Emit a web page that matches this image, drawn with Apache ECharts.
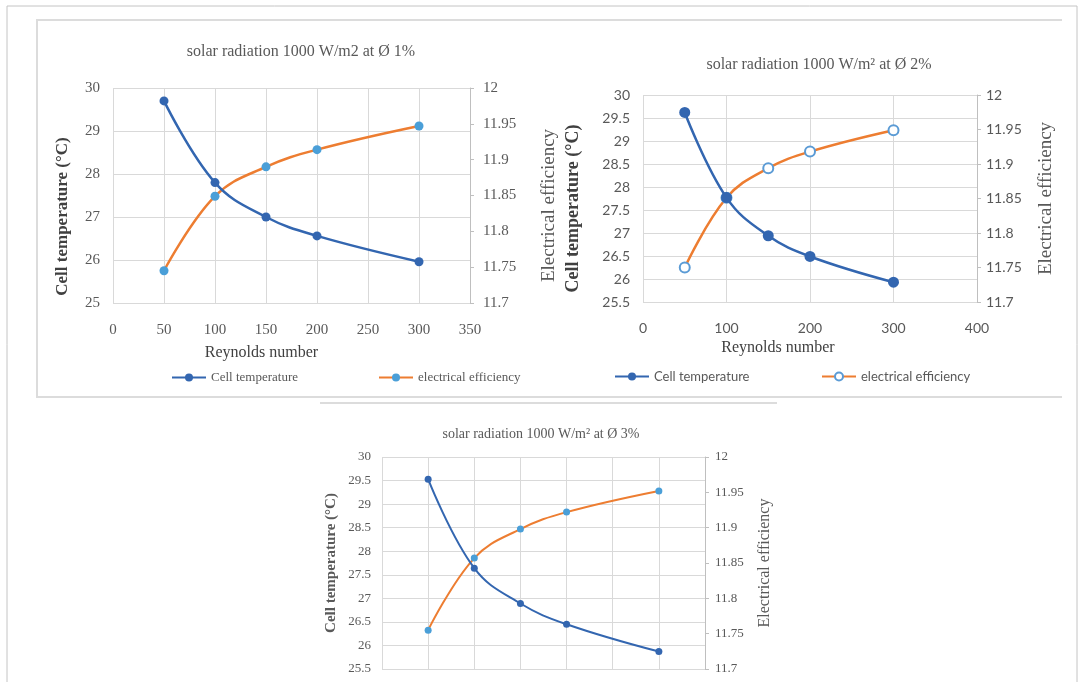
<!DOCTYPE html>
<html>
<head>
<meta charset="utf-8">
<title>solar radiation charts</title>
<script src="https://cdn.jsdelivr.net/npm/echarts@6/dist/echarts.min.js"></script>
<style>
  html, body { margin: 0; padding: 0; background: #fff; }
  #main { width: 1079px; height: 682px; }
</style>
</head>
<body>
<div id="main"></div>
<script>
// Reynolds number (x) shared by all three panels
const reynolds = [50, 100, 150, 200, 300]

// Ø 1%
const temp1 = [29.7, 27.8, 27.0, 26.56, 25.96]
const eff1 = [11.745, 11.849, 11.89, 11.914, 11.947]
// Ø 2%
const temp2 = [29.62, 27.77, 26.94, 26.49, 25.93]
const eff2 = [11.75, 11.851, 11.894, 11.918, 11.949]
// Ø 3%
const temp3 = [29.53, 27.64, 26.89, 26.45, 25.87]
const eff3 = [11.755, 11.857, 11.898, 11.922, 11.952]

const titles = [
  'solar radiation 1000 W/m2 at Ø 1%',
  'solar radiation 1000 W/m² at Ø 2%',
  'solar radiation 1000 W/m² at Ø 3%'
]

const SERIF = '"Liberation Serif", "Times New Roman", serif'
const SANS = 'Lato, "Noto Sans", sans-serif'
const GREY = '#595959'
const DARK = '#404040'
const GRID = '#d9d9d9'
const BLUE = '#3366b0'
const ORANGE = '#ed7d31'
const LIGHTBLUE = '#4a9fd8'

function pairs(ys) {
  return reynolds.map((x, i) => [x, ys[i]])
}

function xAxis(idx, max, interval, o) {
  return {
    type: 'value', gridIndex: idx, min: 0, max: max, interval: interval,
    axisLine: { show: false }, axisTick: { show: false },
    splitLine: { lineStyle: { color: GRID, width: 1 } },
    axisLabel: { show: o.labels, margin: o.margin, color: GREY, fontFamily: o.font, fontSize: o.size },
    name: o.name, nameLocation: 'middle', nameGap: o.nameGap,
    nameTextStyle: { fontFamily: SERIF, fontSize: 16, color: DARK, padding: o.namePad }
  }
}

function leftAxis(idx, min, interval, o) {
  return {
    type: 'value', gridIndex: idx, position: 'left', min: min, max: 30, interval: interval,
    axisLine: { show: false }, axisTick: { show: false },
    splitLine: { lineStyle: { color: GRID, width: 1 } },
    axisLabel: { margin: o.margin, color: GREY, fontFamily: o.font, fontSize: o.size },
    name: 'Cell temperature (°C)', nameLocation: 'middle', nameRotate: 90, nameGap: o.nameGap,
    nameTextStyle: { fontFamily: SERIF, fontSize: o.nameSize, fontWeight: 'bold', color: o.nameColor, padding: o.namePad }
  }
}

function rightAxis(idx, o) {
  return {
    type: 'value', gridIndex: idx, position: 'right', min: 11.7, max: 12, interval: 0.05,
    axisLine: { show: true, lineStyle: { color: '#bfbfbf' } },
    axisTick: { show: true, length: 4, lineStyle: { color: '#bfbfbf' } },
    splitLine: { show: false },
    axisLabel: { margin: o.margin, color: GREY, fontFamily: o.font, fontSize: o.size },
    name: 'Electrical efficiency', nameLocation: 'middle', nameRotate: 90, nameGap: o.nameGap,
    nameTextStyle: { fontFamily: SERIF, fontSize: o.nameSize, color: GREY, padding: o.namePad }
  }
}

function tempSeries(name, idx, data, size, width) {
  return {
    name: name, type: 'line', xAxisIndex: idx, yAxisIndex: idx * 2, data: pairs(data),
    smooth: 0.4, symbol: 'circle', symbolSize: size, z: 3,
    lineStyle: { color: BLUE, width: width },
    itemStyle: { color: BLUE }
  }
}

function effSeries(name, idx, data, size, width, hollow) {
  return {
    name: name, type: 'line', xAxisIndex: idx, yAxisIndex: idx * 2 + 1, data: pairs(data),
    smooth: 0.4, symbol: 'circle', symbolSize: size, z: 2,
    lineStyle: { color: ORANGE, width: width },
    itemStyle: hollow
      ? { color: '#fff', borderColor: '#5b9bd5', borderWidth: 2 }
      : { color: LIGHTBLUE }
  }
}

function legendItem(name, left, top, font, size) {
  return {
    data: [name], left: left, top: top, itemWidth: 34, itemHeight: 10, padding: 0,
    selectedMode: false,
    formatter: n => n.split('|')[0],
    textStyle: { fontFamily: font, fontSize: size, color: GREY }
  }
}

function titleAt(text, cx, top, size) {
  return {
    text: text, left: cx, top: top, textAlign: 'center', padding: 0,
    textStyle: { fontFamily: SERIF, fontSize: size, fontWeight: 'normal', color: GREY }
  }
}

const chart = echarts.init(document.getElementById('main'))

chart.setOption({
  animation: false,
  backgroundColor: '#fff',
  title: [
    titleAt(titles[0], 301, 44, 16),
    titleAt(titles[1], 819, 57, 16),
    titleAt(titles[2], 541, 427, 14)
  ],
  grid: [
    { left: 113, top: 88, width: 357, height: 215 },
    { left: 643, top: 95, width: 334, height: 207 },
    { left: 382, top: 457, width: 323, height: 212 }
  ],
  xAxis: [
    xAxis(0, 350, 50, { labels: true, margin: 20, font: SERIF, size: 15, name: 'Reynolds number', nameGap: 42, namePad: [0, 60, 0, 0] }),
    xAxis(1, 400, 100, { labels: true, margin: 19, font: SANS, size: 14, name: 'Reynolds number', nameGap: 38, namePad: [0, 64, 0, 0] }),
    xAxis(2, 350, 50, { labels: false, margin: 18, font: SERIF, size: 13, name: '', nameGap: 30, namePad: 0 })
  ],
  yAxis: [
    leftAxis(0, 25, 1, { margin: 13, font: SERIF, size: 15, nameGap: 42, nameSize: 17, nameColor: DARK, namePad: [0, 42, 0, 0] }),
    rightAxis(0, { margin: 13, font: SERIF, size: 15, nameGap: 70, nameSize: 19, namePad: [0, 20, 0, 0] }),
    leftAxis(1, 25.5, 0.5, { margin: 13, font: SANS, size: 14, nameGap: 61, nameSize: 18, nameColor: DARK, namePad: [0, 20, 0, 0] }),
    rightAxis(1, { margin: 9, font: SANS, size: 14, nameGap: 60, nameSize: 19, namePad: 0 }),
    leftAxis(2, 25.5, 0.5, { margin: 11, font: SERIF, size: 13, nameGap: 43, nameSize: 15, nameColor: '#595959', namePad: 0 }),
    rightAxis(2, { margin: 10, font: SERIF, size: 13, nameGap: 52, nameSize: 16, namePad: 0 })
  ],
  legend: [
    legendItem('Cell temperature|1', 171, 371, SERIF, 13),
    legendItem('electrical efficiency|1', 378, 371, SERIF, 13),
    legendItem('Cell temperature|2', 614, 370, SANS, 13),
    legendItem('electrical efficiency|2', 821, 370, SANS, 13)
  ],
  series: [
    tempSeries('Cell temperature|1', 0, temp1, 9, 2.5),
    effSeries('electrical efficiency|1', 0, eff1, 9, 2.5, false),
    tempSeries('Cell temperature|2', 1, temp2, 11, 2.5),
    effSeries('electrical efficiency|2', 1, eff2, 10, 2.5, true),
    tempSeries('Cell temperature|3', 2, temp3, 7, 2),
    effSeries('electrical efficiency|3', 2, eff3, 7, 2, false)
  ],
  // picture frames around the panels
  graphic: [
    { type: 'rect', shape: { x: 7, y: 6, width: 1070, height: 720 }, style: { fill: 'none', stroke: '#c4c4c4', lineWidth: 1 }, silent: true },
    { type: 'polyline', shape: { points: [[1062, 20], [37, 20], [37, 397], [1062, 397]] }, style: { fill: 'none', stroke: '#dcdcdc', lineWidth: 2 }, silent: true },
    { type: 'line', shape: { x1: 320, y1: 403, x2: 777, y2: 403 }, style: { stroke: '#dcdcdc', lineWidth: 2 }, silent: true }
  ]
})
</script>
</body>
</html>
